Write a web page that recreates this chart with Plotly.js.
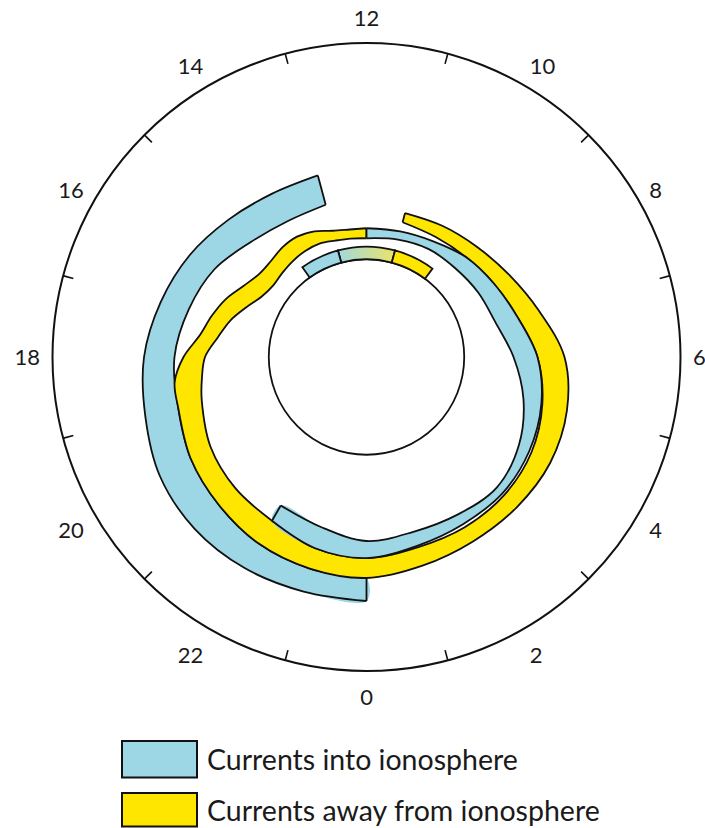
<!DOCTYPE html>
<html><head><meta charset="utf-8">
<script src="https://cdn.plot.ly/plotly-3.0.1.min.js"></script>
<style>html,body{margin:0;padding:0;background:#fff}#chart{width:705px;height:828px}</style>
</head><body><div id="chart"></div>
<script>
// Magnetic local time (hours) and colatitude (degrees) of each current band's edges
const mltA   = [13, 14, 15, 16, 17, 18, 19, 20, 21, 22, 23, 24];
const innerA = [20.08, 20.01, 20.76, 22.36, 23.44, 24.46, 24.84, 25.86, 26.62, 27.45, 27.90, 28.15];
const outerA = [23.95, 24.03, 24.79, 25.99, 27.13, 28.34, 29.17, 30.38, 30.96, 31.05, 30.93, 31.08];

const mltY   = [11, 10, 9, 8, 7, 6, 5, 4, 3, 2, 1, 0, 23, 22, 21, 20, 19, 18.5, 18, 17.5, 17, 16.5, 16, 15.5, 15, 14.5, 14, 13.5, 13, 12.5, 12];
const innerY = [17.77, 17.64, 17.96, 18.73, 19.87, 21.78, 23.19, 24.27, 24.84, 25.03, 25.10, 25.61, 25.22, 24.08, 23.63, 22.93, 21.72, 21.15, 20.57, 19.11, 17.96, 16.56, 15.41, 14.97, 15.16, 15.41, 15.61, 15.64, 15.35, 15.22, 15.12];
const outerY = [18.98, 19.30, 19.87, 20.96, 22.74, 25.22, 26.43, 27.01, 27.07, 27.13, 27.52, 28.15, 27.90, 27.45, 26.62, 25.86, 24.84, 24.65, 23.31, 21.40, 20.38, 19.36, 18.10, 17.30, 17.25, 17.60, 17.70, 17.33, 16.65, 16.38, 16.40];

const mltC   = [12, 11, 10, 9, 8, 7, 6, 5, 4, 3, 2, 1, 0, 23, 22];
const innerC = [15.12, 15.48, 15.86, 15.99, 16.43, 17.01, 18.73, 20.70, 22.42, 23.50, 23.19, 23.06, 23.44, 22.42, 21.85];
const outerC = [16.40, 16.56, 17.01, 17.96, 18.73, 19.87, 21.78, 23.06, 23.95, 24.52, 24.59, 24.90, 25.61, 25.22, 24.08];

// Small cusp-region segments (MLT start/end) on the polar cap boundary
const capRadius   = 12.45;
const smallInner  = 12.45;
const smallOuter  = 14.05;
const smallBlue   = [13.0, 14.37];
const smallMixed  = [11.0, 13.0];
const smallYellow = [9.55, 11.0];

const labelHours = [0, 2, 4, 6, 8, 10, 12, 14, 16, 18, 20, 22];
const hourLabels = ['0', '2', '4', '6', '8', '10', '12', '14', '16', '18', '20', '22'];
const tickHours  = [1, 3, 5, 7, 9, 11, 13, 15, 17, 19, 21, 23];
const outerLimit = 40;
const legendLabels = ['Currents into ionosphere', 'Currents away from ionosphere'];

const BLUE = '#9dd7e6', YELLOW = '#ffe600', EDGE = '#111111';
const MIX_FROM = [163, 216, 220], MIX_TO = [233, 227, 108];
const FONT = 'Lato, "Open Sans", sans-serif';
const LW = 1.8;

const th = h => h * 15;

function bandTraces(mlt, rin, rout, color) {
  const t = mlt.map(th);
  const n = mlt.length - 1;
  const line = {color: EDGE, width: LW, shape: 'spline', smoothing: 1};
  return [
    // filled area: outer edge, then inner edge back
    {type: 'scatterpolar', r: rout.concat(rin.slice().reverse()), theta: t.concat(t.slice().reverse()),
     mode: 'lines', fill: 'toself', fillcolor: color, hoverinfo: 'skip',
     line: {color: 'rgba(0,0,0,0)', width: 0, shape: 'spline', smoothing: 1}},
    // outlines
    {type: 'scatterpolar', r: rin, theta: t, mode: 'lines', hoverinfo: 'skip', line: line},
    {type: 'scatterpolar', r: rout, theta: t, mode: 'lines', hoverinfo: 'skip', line: line},
    {type: 'scatterpolar', r: [rin[0], rout[0]], theta: [t[0], t[0]], mode: 'lines', hoverinfo: 'skip',
     line: {color: EDGE, width: LW}},
    {type: 'scatterpolar', r: [rin[n], rout[n]], theta: [t[n], t[n]], mode: 'lines', hoverinfo: 'skip',
     line: {color: EDGE, width: LW}}
  ];
}
function sector(range, fill, lineW, extra) {
  return {type: 'barpolar', base: [smallInner], r: [smallOuter - smallInner],
    theta: [th((range[0] + range[1]) / 2)], width: [Math.abs(range[1] - range[0]) * 15 + (extra || 0)],
    marker: {color: fill, line: {color: EDGE, width: lineW}}, hoverinfo: 'skip'};
}

const data = [];
// gradient segment, drawn as thin slices
const nMix = 18;
for (let i = 0; i < nMix; i++) {
  const f = (i + 0.5) / nMix;
  const c = MIX_FROM.map((v, k) => Math.round(v + (MIX_TO[k] - v) * f));
  const h0 = smallMixed[1] - (smallMixed[1] - smallMixed[0]) * i / nMix;
  const h1 = smallMixed[1] - (smallMixed[1] - smallMixed[0]) * (i + 1) / nMix;
  data.push(sector([h1, h0], 'rgb(' + c.join(',') + ')', 0, 0.4));
}
data.push(sector(smallMixed, 'rgba(0,0,0,0)', LW));
data.push(sector(smallBlue, BLUE, LW));
data.push(sector(smallYellow, YELLOW, LW));

data.push(...bandTraces(mltA, innerA, outerA, BLUE));
data.push(...bandTraces(mltY, innerY, outerY, YELLOW));
data.push(...bandTraces(mltC, innerC, outerC, BLUE));
data.push({type: 'scatterpolar', subplot: 'polar2', r: [], theta: [], mode: 'lines', hoverinfo: 'skip'});

const W = 705, H = 828;
const cx = 366.5, cy = 357, R = 314;
const dom = {x: [(cx - R) / W, (cx + R) / W], y: [1 - (cy + R) / H, 1 - (cy - R) / H]};

const layout = {
  width: W, height: H, margin: {l: 0, r: 0, t: 0, b: 0},
  paper_bgcolor: '#ffffff', showlegend: false,
  font: {family: FONT, color: '#1a1a1a'},
  polar: {
    domain: dom, bgcolor: '#ffffff', barmode: 'overlay',
    radialaxis: {range: [0, outerLimit], tickvals: [capRadius], showticklabels: false, ticks: '',
                 showline: false, showgrid: true, gridcolor: EDGE, gridwidth: LW},
    angularaxis: {rotation: -90, direction: 'counterclockwise', thetaunit: 'degrees',
                  tickvals: labelHours.map(th), ticktext: hourLabels,
                  ticks: 'outside', ticklen: 7, tickcolor: 'rgba(0,0,0,0)',
                  tickfont: {size: 22, family: FONT, color: '#1a1a1a'},
                  showline: true, linecolor: EDGE, linewidth: 2, showgrid: false}
  },
  polar2: {
    domain: dom, bgcolor: 'rgba(0,0,0,0)',
    radialaxis: {visible: false, range: [0, outerLimit]},
    angularaxis: {rotation: -90, direction: 'counterclockwise', thetaunit: 'degrees',
                  tickvals: tickHours.map(th), ticks: 'inside', ticklen: 10, tickwidth: 1.6,
                  tickcolor: EDGE, showticklabels: false, showline: false, showgrid: false}
  },
  shapes: [
    {type: 'rect', xref: 'paper', yref: 'paper', x0: 122 / W, x1: 197 / W, y0: 1 - 777.5 / H, y1: 1 - 741 / H,
     fillcolor: BLUE, line: {color: EDGE, width: 2}},
    {type: 'rect', xref: 'paper', yref: 'paper', x0: 122 / W, x1: 197 / W, y0: 1 - 826.5 / H, y1: 1 - 793 / H,
     fillcolor: YELLOW, line: {color: EDGE, width: 2}}
  ],
  annotations: legendLabels.map((t, i) => ({
    text: t, xref: 'paper', yref: 'paper', x: 205 / W, y: 1 - (759 + i * 51) / H,
    xanchor: 'left', yanchor: 'middle', showarrow: false,
    font: {size: 28.5, family: FONT, color: '#1a1a1a'}
  }))
};

Plotly.newPlot('chart', data, layout, {staticPlot: true, displayModeBar: false});
</script>
</body></html>
